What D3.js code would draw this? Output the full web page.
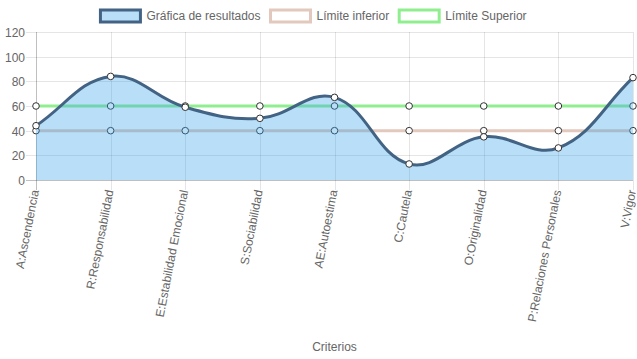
<!DOCTYPE html>
<html>
<head>
<meta charset="utf-8">
<script src="https://cdn.jsdelivr.net/npm/d3@7"></script>
<style>
  html, body { margin: 0; padding: 0; background: #fff; }
  svg { display: block; }
  text { font-family: "Liberation Sans", Arial, Helvetica, sans-serif; }
</style>
</head>
<body>
<svg id="chart" width="637" height="359"></svg>
<script>
// ---- data ----
const categories = ["A:Ascendencia", "R:Responsabilidad", "E:Estabilidad Emocional", "S:Sociabilidad",
  "AE:Autoestima", "C:Cautela", "O:Originalidad", "P:Relaciones Personales", "V:Vigor"];
const resultados = [44, 84, 59, 50, 67, 13, 35, 26, 83];
const limiteInferior = [40, 40, 40, 40, 40, 40, 40, 40, 40];
const limiteSuperior = [60, 60, 60, 60, 60, 60, 60, 60, 60];
const yTicks = [0, 20, 40, 60, 80, 100, 120];
const legendLabels = ["Gráfica de resultados", "Límite inferior", "Límite Superior"];
const xTitle = "Criterios";

(function () {
// ---- layout ----
const W = 637, H = 359;
const pLeft = 36, pRight = 633, pTop = 32, pBottom = 180;
const svg = d3.select("#chart");

const x = d3.scalePoint().domain(categories).range([pLeft, pRight]);
const y = d3.scaleLinear().domain([0, 120]).range([pBottom, pTop]);

const gridColor = "rgba(0,0,0,0.1)";
const zeroColor = "rgba(0,0,0,0.25)";
const fontColor = "#666";

// horizontal gridlines
const gy = svg.append("g");
yTicks.forEach(t => {
  const yy = Math.round(y(t)) + 0.5;
  gy.append("line").attr("x1", pLeft - 10).attr("x2", pRight).attr("y1", yy).attr("y2", yy)
    .attr("stroke", t === 0 ? zeroColor : gridColor).attr("stroke-width", 1);
  gy.append("text").attr("x", pLeft - 10).attr("y", yy).attr("text-anchor", "end")
    .attr("dominant-baseline", "central").attr("dx", -1)
    .attr("font-size", 12).attr("fill", fontColor).text(t);
});
// vertical gridlines
const gx = svg.append("g");
categories.forEach((c, i) => {
  const xx = Math.round(x(c)) + 0.5;
  gx.append("line").attr("x1", xx).attr("x2", xx).attr("y1", pTop).attr("y2", pBottom + 10)
    .attr("stroke", i === 0 ? zeroColor : gridColor).attr("stroke-width", 1);
  gx.append("text")
    .attr("transform", `translate(${x(c) - 1},${pBottom + 10}) rotate(-79)`)
    .attr("text-anchor", "end").attr("dominant-baseline", "central")
    .attr("font-size", 12).attr("fill", fontColor).text(c);
});
svg.append("text").attr("x", (pLeft + pRight) / 2).attr("y", 351).attr("text-anchor", "middle")
  .attr("font-size", 12).attr("fill", fontColor).text(xTitle);

// Chart.js-like spline (tension 0.4)
function splinePath(values, closeToZero) {
  const pts = values.map((v, i) => ({ x: x(categories[i]), y: y(v) }));
  const t = 0.4;
  const cps = pts.map((cur, i) => {
    const prev = i > 0 ? pts[i - 1] : cur;
    const next = i < pts.length - 1 ? pts[i + 1] : cur;
    const d01 = Math.hypot(cur.x - prev.x, cur.y - prev.y);
    const d12 = Math.hypot(next.x - cur.x, next.y - cur.y);
    let s01 = d01 / (d01 + d12), s12 = d12 / (d01 + d12);
    if (isNaN(s01)) s01 = 0; if (isNaN(s12)) s12 = 0;
    const fa = t * s01, fb = t * s12;
    const clampX = v => Math.max(pLeft, Math.min(pRight, v));
    const clampY = v => Math.max(pTop, Math.min(pBottom, v));
    return {
      px: clampX(cur.x - fa * (next.x - prev.x)), py: clampY(cur.y - fa * (next.y - prev.y)),
      nx: clampX(cur.x + fb * (next.x - prev.x)), ny: clampY(cur.y + fb * (next.y - prev.y))
    };
  });
  const p = d3.path();
  p.moveTo(pts[0].x, pts[0].y);
  for (let i = 1; i < pts.length; i++) {
    p.bezierCurveTo(cps[i - 1].nx, cps[i - 1].ny, cps[i].px, cps[i].py, pts[i].x, pts[i].y);
  }
  if (closeToZero) {
    p.lineTo(pts[pts.length - 1].x, y(0));
    p.lineTo(pts[0].x, y(0));
    p.closePath();
  }
  return p.toString();
}

const series = [
  { name: legendLabels[2], values: limiteSuperior, stroke: "#90ee90", fill: null },
  { name: legendLabels[1], values: limiteInferior, stroke: "#e3c8bd", fill: null },
  { name: legendLabels[0], values: resultados, stroke: "#436384", fill: "rgba(54,162,235,0.35)" }
];

series.forEach(s => {
  const g = svg.append("g");
  if (s.fill) g.append("path").attr("d", splinePath(s.values, true)).attr("fill", s.fill);
  g.append("path").attr("d", splinePath(s.values, false)).attr("fill", "none")
    .attr("stroke", s.stroke).attr("stroke-width", 3);
  g.selectAll("circle").data(s.values).join("circle")
    .attr("cx", (d, i) => x(categories[i])).attr("cy", d => y(d)).attr("r", 3.3)
    .attr("fill", "#fff").attr("stroke", "#333").attr("stroke-width", 1);
});

// legend
const legendStyles = [
  { fill: "rgba(54,162,235,0.35)", stroke: "#436384" },
  { fill: "#fff", stroke: "#e3c8bd" },
  { fill: "#fff", stroke: "#90ee90" }
];
const lg = svg.append("g");
const widths = legendLabels.map(l => {
  const tmp = lg.append("text").attr("font-size", 12).text(l);
  const w = tmp.node().getComputedTextLength();
  tmp.remove();
  return w;
});
const itemW = widths.map(w => 40 + 6 + w);
const total = d3.sum(itemW) + 10 * (itemW.length);
let cx = (W - total) / 2;
legendLabels.forEach((l, i) => {
  lg.append("rect").attr("x", cx).attr("y", 10).attr("width", 40).attr("height", 12)
    .attr("fill", legendStyles[i].fill).attr("stroke", legendStyles[i].stroke).attr("stroke-width", 3);
  lg.append("text").attr("x", cx + 46).attr("y", 16).attr("dominant-baseline", "central")
    .attr("font-size", 12).attr("fill", fontColor).text(l);
  cx += itemW[i] + 10;
});
})();
</script>
</body>
</html>
